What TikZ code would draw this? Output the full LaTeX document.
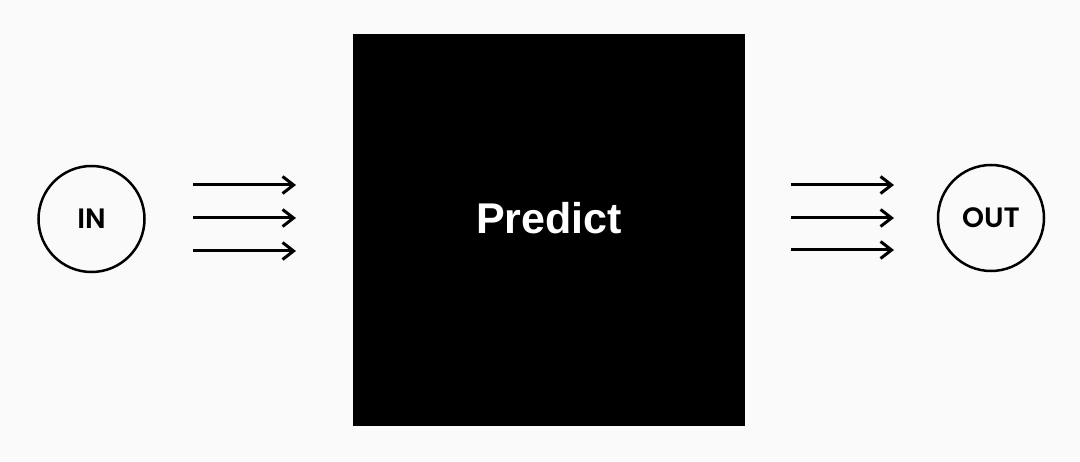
\documentclass[tikz,border=0pt]{standalone}
\usepackage{fontspec}
\setmainfont{Liberation Sans}
\newfontfamily\roundfont{Poppins SemiBold}
\usetikzlibrary{arrows.meta, positioning}
\definecolor{my_bg}{RGB}{250, 250, 250}
\tikzset {
  endpoint/.style = {draw, circle, line width=2.5pt, minimum size=106pt, inner sep=0, font=\roundfont\fontsize{28}{28}\selectfont},
  blackbox/.style = {draw=black, fill=black, minimum width=391pt, minimum height=391pt, inner sep=0, anchor=south west},
  boxtext/.style = {text=white, font=\bfseries\fontsize{43}{43}\selectfont},
  line/.style = {-{Straight Barb[length=11pt, width=17pt, line width=3pt]}, line width=3pt, color=black, shorten >=2pt}
}

\begin{document}
\begin{tikzpicture}[x=1pt, y=1pt]

    \fill[my_bg] (0,0) rectangle (1080,461);
    \useasboundingbox (0,0) rectangle (1080,461);

    \node[endpoint] (in) at (91.5,242) {IN};
    \node[blackbox] (box) at (353,36) {};
    \node[boxtext] (predict) at (549,243) {Predict};
    \node[endpoint] (out) at (991,243) {OUT};

    % input arrows
    \foreach \i/\y in {1/276, 2/243, 3/210} {
        \coordinate (inA\i) at (193,\y);
        \coordinate (inB\i) at (298,\y);
        \draw[line] (inA\i) -- (inB\i);
    }
    % output arrows
    \foreach \i/\y in {1/276, 2/243, 3/211} {
        \coordinate (outA\i) at (791,\y);
        \coordinate (outB\i) at (896,\y);
        \draw[line] (outA\i) -- (outB\i);
    }

\end{tikzpicture}
\end{document}
